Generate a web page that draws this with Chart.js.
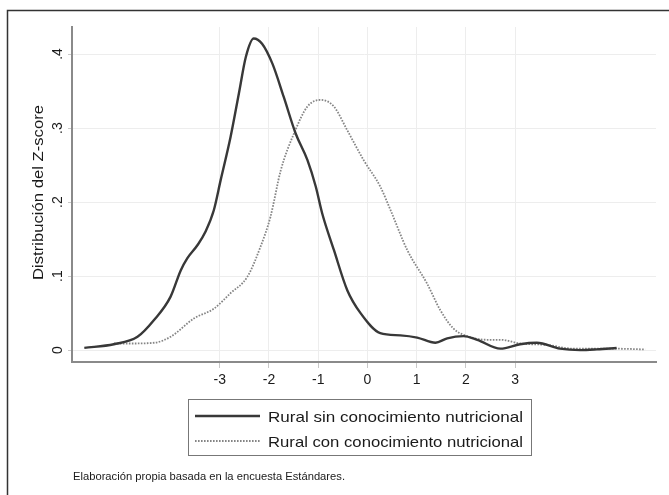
<!DOCTYPE html>
<html>
<head>
<meta charset="utf-8">
<script src="https://cdn.jsdelivr.net/npm/chart.js@4"></script>
<style>
  body { margin: 0; background: #fff; }
  canvas { display: block; }
</style>
</head>
<body>
<canvas id="chart" width="669" height="495"></canvas>
<script>
// densidad del z-score
const zSin = [-5.75, -5.15, -4.67, -4.33, -4.0, -3.79, -3.66, -3.45, -3.29, -3.12, -2.98, -2.78, -2.61, -2.47, -2.31, -2.14, -1.93, -1.70, -1.46, -1.22, -1.05, -0.92, -0.68, -0.41, -0.14, 0.26, 0.67, 1.01, 1.38, 1.62, 1.95, 2.23, 2.70, 3.10, 3.44, 3.91, 4.32, 4.66, 5.06];
const densSin = [0.003, 0.008, 0.018, 0.041, 0.072, 0.108, 0.124, 0.142, 0.160, 0.189, 0.230, 0.288, 0.347, 0.396, 0.421, 0.414, 0.387, 0.342, 0.293, 0.257, 0.221, 0.185, 0.135, 0.081, 0.050, 0.023, 0.020, 0.017, 0.010, 0.016, 0.019, 0.014, 0.002, 0.008, 0.010, 0.002, 0.000, 0.001, 0.003];

const zCon = [-5.15, -4.81, -4.33, -4.0, -3.52, -3.12, -2.78, -2.44, -2.17, -1.97, -1.76, -1.49, -1.22, -0.95, -0.68, -0.41, -0.08, 0.26, 0.47, 0.81, 1.21, 1.48, 1.75, 2.02, 2.43, 2.70, 3.10, 3.65, 4.18, 5.0, 5.64];
const densCon = [0.009, 0.009, 0.010, 0.018, 0.043, 0.056, 0.077, 0.099, 0.140, 0.180, 0.243, 0.293, 0.329, 0.338, 0.329, 0.297, 0.257, 0.221, 0.189, 0.135, 0.090, 0.054, 0.029, 0.019, 0.014, 0.014, 0.009, 0.007, 0.002, 0.002, 0.001];

const xTicks = [-3, -2, -1, 0, 1, 2, 3];
const yTicks = [0, 0.1, 0.2, 0.3, 0.4];
const yTickLabels = ['0', '.1', '.2', '.3', '.4'];
const seriesNames = ['Rural sin conocimiento nutricional', 'Rural con conocimiento nutricional'];
const yTitle = 'Distribución del Z-score';
const note = 'Elaboración propia basada en la encuesta Estándares.';

const FONT = "'Liberation Sans', Arial, sans-serif";
Chart.defaults.font.family = FONT;

// texto estirado a un ancho dado (el original es algo mas ancho que Arial)
function fitText(ctx, text, x, y, width, rot) {
    ctx.save();
    ctx.translate(x, y);
    ctx.rotate(rot || 0);
    const w = ctx.measureText(text).width;
    ctx.scale(width / w, 1);
    ctx.fillText(text, 0, 0);
    ctx.restore();
}

const extras = {
    id: 'extras',
    afterDraw(chart) {
        const ctx = chart.ctx;
        const y = chart.scales.y;
        const ds = chart.data.datasets;
        ctx.save();

        // marco exterior
        ctx.strokeStyle = '#333';
        ctx.lineWidth = 1.5;
        ctx.strokeRect(7.5, 10.5, 700, 600);

        ctx.fillStyle = '#1a1a1a';
        ctx.textAlign = 'center';
        ctx.textBaseline = 'alphabetic';

        // etiquetas del eje y, giradas como en Stata
        ctx.font = '14px ' + FONT;
        yTicks.forEach((v, i) => {
            ctx.save();
            ctx.translate(62, y.getPixelForValue(v));
            ctx.rotate(-Math.PI / 2);
            ctx.fillText(yTickLabels[i], 0, 0);
            ctx.restore();
        });

        // titulo del eje y
        ctx.textAlign = 'left';
        ctx.font = '15px ' + FONT;
        fitText(ctx, yTitle, 43, 280, 175, -Math.PI / 2);

        // leyenda
        ctx.strokeStyle = '#777';
        ctx.lineWidth = 1;
        ctx.strokeRect(188.5, 399.5, 343, 56);
        const rows = [416, 441];
        rows.forEach((ry, i) => {
            ctx.save();
            ctx.strokeStyle = ds[i].borderColor;
            ctx.lineWidth = ds[i].borderWidth;
            ctx.setLineDash(ds[i].borderDash || []);
            ctx.beginPath();
            ctx.moveTo(195, ry);
            ctx.lineTo(260, ry);
            ctx.stroke();
            ctx.restore();
            ctx.font = '15px ' + FONT;
            fitText(ctx, seriesNames[i], 268, ry + 5.5, 255);
        });

        // nota
        ctx.font = '11px ' + FONT;
        fitText(ctx, note, 73, 479.5, 272);

        ctx.restore();
    }
};

new Chart(document.getElementById('chart'), {
    type: 'line',
    data: {
        datasets: [
            {
                label: seriesNames[0],
                data: zSin.map((x, i) => ({ x: x, y: densSin[i] })),
                borderColor: '#383838',
                borderWidth: 2.4,
                pointRadius: 0,
                cubicInterpolationMode: 'monotone',
                fill: false
            },
            {
                label: seriesNames[1],
                data: zCon.map((x, i) => ({ x: x, y: densCon[i] })),
                borderColor: '#858585',
                borderWidth: 1.8,
                borderDash: [1.6, 1.4],
                pointRadius: 0,
                cubicInterpolationMode: 'monotone',
                fill: false
            }
        ]
    },
    options: {
        responsive: false,
        animation: false,
        devicePixelRatio: 1,
        layout: { padding: { left: 0, top: 27, right: 13, bottom: 0 } },
        plugins: {
            legend: { display: false },
            tooltip: { enabled: false }
        },
        scales: {
            x: {
                type: 'linear',
                min: -6,
                max: 5.86,
                afterBuildTicks: axis => { axis.ticks = xTicks.map(v => ({ value: v })); },
                afterFit: axis => { axis.height = 133; },
                grid: { color: '#ededed', tickColor: '#c8c8c8', tickLength: 6, lineWidth: 1 },
                border: { display: true, color: '#8a8a8a', width: 2 },
                ticks: {
                    color: '#1a1a1a',
                    font: { size: 14 },
                    padding: 4,
                    maxRotation: 0,
                    callback: v => String(v)
                }
            },
            y: {
                type: 'linear',
                min: -0.016,
                max: 0.4365,
                afterBuildTicks: axis => { axis.ticks = yTicks.map(v => ({ value: v })); },
                afterFit: axis => { axis.width = 72; },
                grid: { color: '#ededed', tickColor: '#c8c8c8', tickLength: 4, lineWidth: 1 },
                border: { display: true, color: '#8a8a8a', width: 2 },
                ticks: { display: false }
            }
        }
    },
    plugins: [extras]
});
</script>
</body>
</html>
